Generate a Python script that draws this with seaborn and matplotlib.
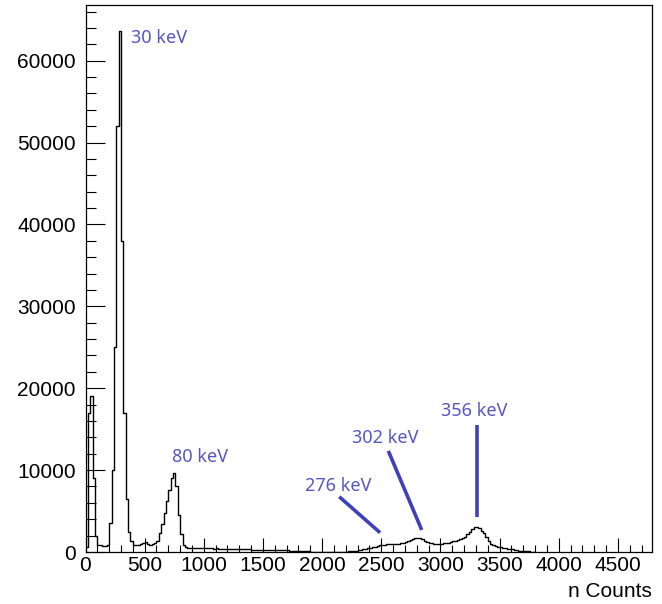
import numpy as np
import pandas as pd
import matplotlib
matplotlib.use("Agg")
import matplotlib.pyplot as plt
from matplotlib.ticker import MultipleLocator
import seaborn as sns

# Spectrum: counts per 20-unit bin, starting at 0
bin_width = 20

counts_0_400 = [
    600, 17000, 19000, 9000, 2000, 900, 800, 750, 750, 800,
    3500, 10000, 25000, 52000, 63600, 38000, 17000, 6500, 2500, 1300,
]
counts_400_860 = [
    900, 850, 850, 950, 1150, 1250, 1000, 850, 1000, 1100,
    1400, 2300, 3400, 4800, 6200, 7600, 9000, 9600, 8000, 4500,
    2200, 900, 550,
]
counts_860_2400 = [
    520, 500, 510, 480, 490, 470, 460,
    450, 440, 450, 430, 420, 430, 410, 400, 410, 390,
    380, 370, 360, 370, 350, 340, 330, 340, 320, 310,
    300, 290, 280, 290, 270, 260, 250, 260, 240, 230,
    220, 210, 220, 200, 190, 200, 180, 170, 170, 160,
    140, 120, 100, 80, 70, 60, 60, 50, 60, 50,
    50, 40, 50, 60, 50, 40, 50, 60, 50, 60,
    60, 70, 80, 100, 120, 200, 280, 330, 380, 430,
]
counts_2400_3800 = [
    480, 560, 650, 730, 800, 860, 910, 940, 930, 950,
    940, 960, 1000, 1080, 1150, 1250, 1350, 1450, 1550, 1650,
    1720, 1750, 1600, 1400, 1250, 1150, 1080, 1020, 990, 980,
    1000, 1050, 1100, 1150, 1200, 1300, 1400, 1500, 1550, 1650,
    1800, 2150, 2500, 2800, 3000, 3100, 2950, 2600, 2300, 1800,
    1300, 950, 800, 700, 620, 570, 520, 450, 400, 350,
    320, 280, 230, 180, 140, 110, 100, 80, 60, 40,
]

# Peak labels and their pointer lines (data coordinates)
peak_labels = ["30 keV", "80 keV", "276 keV", "302 keV", "356 keV"]
label_x = [385, 731, 1855, 2253, 3005]
label_y = [62770, 11600, 8060, 13920, 17220]
pointer_x0 = [2145, 2560, 3307]
pointer_y0 = [6750, 12340, 15510]
pointer_x1 = [2490, 2842, 3307]
pointer_y1 = [2360, 2690, 4310]

counts = np.array(counts_0_400 + counts_400_860 + counts_860_2400 + counts_2400_3800, dtype=float)
n_bins = len(counts)
centers = np.arange(n_bins) * bin_width + bin_width / 2
spectrum = pd.DataFrame({"channel": centers, "counts": counts})

sns.set_style("ticks")
plt.rcParams["font.family"] = ["Liberation Sans", "DejaVu Sans"]

fig = plt.figure(figsize=(6.62, 6.04), dpi=100)
ax = fig.add_axes([85.5 / 662, 1 - 552 / 604, (651.7 - 85.5) / 662, (552 - 5) / 604])

sns.histplot(
    data=spectrum, x="channel", weights="counts",
    binwidth=bin_width, binrange=(0, n_bins * bin_width),
    element="step", fill=False, color="black", linewidth=1.0, ax=ax,
)

ax.set_xlim(0, 4786)
ax.set_ylim(0, 66800)
ax.set_xlabel("")
ax.set_ylabel("")

ax.xaxis.set_major_locator(MultipleLocator(500))
ax.xaxis.set_minor_locator(MultipleLocator(100))
ax.yaxis.set_major_locator(MultipleLocator(10000))
ax.yaxis.set_minor_locator(MultipleLocator(2000))

ax.tick_params(axis="both", which="both", direction="in", width=0.8, colors="black",
               labelsize=15, top=False, right=False)
ax.tick_params(axis="y", which="major", length=14, pad=7)
ax.tick_params(axis="y", which="minor", length=7)
ax.tick_params(axis="x", which="major", length=10, pad=3)
ax.tick_params(axis="x", which="minor", length=5)

for side in ["left", "right", "top", "bottom"]:
    ax.spines[side].set_visible(True)
    ax.spines[side].set_color("black")
    ax.spines[side].set_linewidth(0.9)

ax.text(1.0, -0.073, "n Counts", transform=ax.transAxes, ha="right", va="center",
        fontsize=15, color="black")

text_color = "#5656c4"
line_color = "#4040b8"
for lab, lx, ly in zip(peak_labels, label_x, label_y):
    ax.text(lx, ly, lab, ha="left", va="center", fontsize=13, color=text_color,
            family=["Noto Sans", "DejaVu Sans"])
for x0, y0, x1, y1 in zip(pointer_x0, pointer_y0, pointer_x1, pointer_y1):
    ax.plot([x0, x1], [y0, y1], color=line_color, linewidth=2.6, solid_capstyle="butt")

fig.savefig("out.png", dpi=100)
